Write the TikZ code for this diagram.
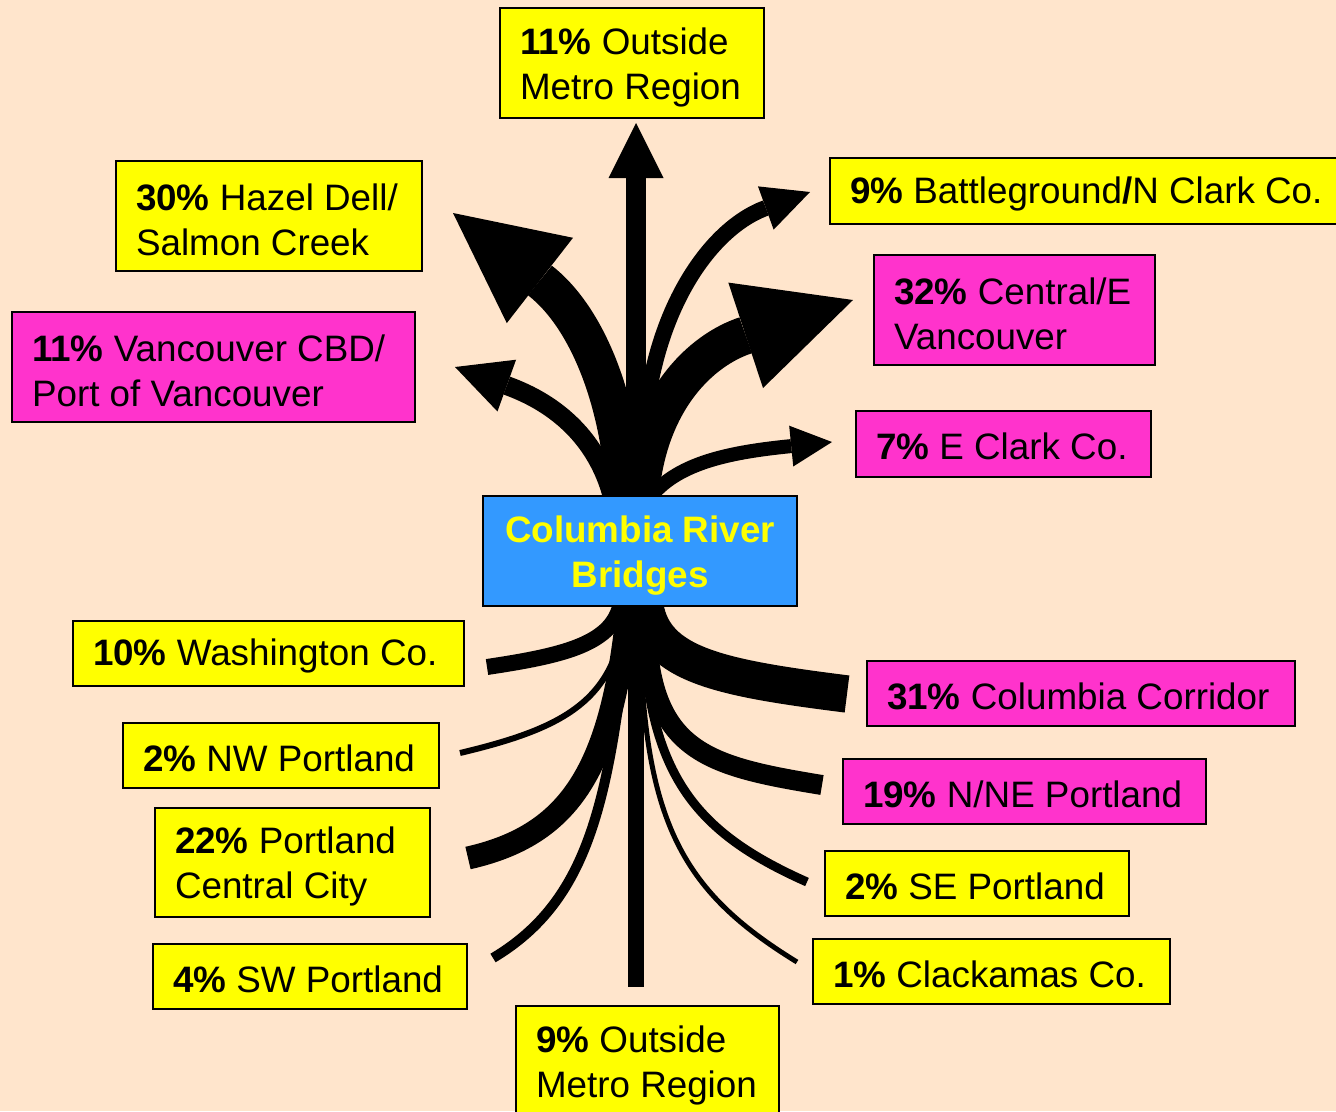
\documentclass[tikz,border=0pt]{standalone}
\usepackage{fontspec}
\setmainfont{Liberation Sans}
\usetikzlibrary{arrows.meta,calc}
\definecolor{bgpeach}{RGB}{255,229,204}
\definecolor{boxyellow}{RGB}{255,255,0}
\definecolor{boxmag}{RGB}{255,51,204}
\definecolor{boxblue}{RGB}{51,153,255}
\pgfdeclarelayer{back}
\pgfsetlayers{back,main}
\newcommand\ts{\rule{0pt}{26.5pt}}
\newcommand\tss{\rule{0pt}{24pt}}
\newcommand\boxline[2]{\makebox[#1][l]{#2}}
\tikzset{
  box/.style={draw=black, line width=1.2pt, inner xsep=15pt, inner ysep=0pt, align=left,
    font=\fontsize{27.6pt}{33.75pt}\selectfont},
  ybox/.style={box, fill=boxyellow},
  mbox/.style={box, fill=boxmag},
  flow/.style={draw=black, line cap=butt},
}
\begin{document}
\begin{tikzpicture}[x=0.75pt,y=-0.75pt]
\begin{pgfonlayer}{back}
\fill[bgpeach] (0,0) rectangle (1336,1111);
\end{pgfonlayer}
\useasboundingbox (0,0) rectangle (1336,1111);

% boxes
\node[ybox, minimum width=198pt, minimum height=82.5pt] (top) at (632,63)
  {\ts\boxline{168pt}{\textbf{11\%} Outside}\\Metro Region};
\node[ybox, minimum width=229.5pt, minimum height=82.5pt] (hazel) at (269,216)
  {\ts\boxline{199.5pt}{\textbf{30\%} Hazel Dell/}\\Salmon Creek};
\node[ybox, minimum width=387pt, minimum height=49.5pt] (battle) at (1088,191)
  {\tss\boxline{357pt}{\textbf{9\%} Battleground\textbf{/}N Clark Co.}};
\node[mbox, minimum width=210.75pt, minimum height=82.5pt] (central) at (1014.5,310)
  {\ts\boxline{180.75pt}{\textbf{32\%} Central/E}\\Vancouver};
\node[mbox, minimum width=302.25pt, minimum height=82.5pt] (vancbd) at (213.5,367)
  {\ts\boxline{272.25pt}{\textbf{11\%} Vancouver CBD/}\\Port of Vancouver};
\node[mbox, minimum width=221.25pt, minimum height=49.5pt] (eclark) at (1003.5,444)
  {\tss\boxline{191.25pt}{\textbf{7\%} E Clark Co.}};
\node[box, fill=boxblue, align=center, text=boxyellow, font=\fontsize{27.6pt}{33.75pt}\selectfont\bfseries,
      inner xsep=0pt, minimum width=235.5pt, minimum height=82.5pt] (bridge) at (640,551) {\ts Columbia River\\Bridges};
\node[ybox, minimum width=293.25pt, minimum height=48.75pt] (wash) at (268.5,653.5)
  {\tss\boxline{263.25pt}{\textbf{10\%} Washington Co.}};
\node[mbox, minimum width=321pt, minimum height=48.75pt] (colcorr) at (1081,693.5)
  {\tss\boxline{291pt}{\textbf{31\%} Columbia Corridor}};
\node[ybox, minimum width=237pt, minimum height=48.75pt] (nwport) at (281,755.5)
  {\tss\boxline{207pt}{\textbf{2\%} NW Portland}};
\node[mbox, minimum width=272.25pt, minimum height=48.75pt] (nne) at (1024.5,791.5)
  {\tss\boxline{242.25pt}{\textbf{19\%} N/NE Portland}};
\node[ybox, minimum width=206.25pt, minimum height=81.75pt] (pcc) at (292.5,862.5)
  {\ts\boxline{176.25pt}{\textbf{22\%} Portland}\\Central City};
\node[ybox, minimum width=228pt, minimum height=48.75pt] (seport) at (977,883.5)
  {\tss\boxline{198pt}{\textbf{2\%} SE Portland}};
\node[ybox, minimum width=235.5pt, minimum height=48.75pt] (swport) at (310,976.5)
  {\tss\boxline{205.5pt}{\textbf{4\%} SW Portland}};
\node[ybox, minimum width=267.75pt, minimum height=48.75pt] (clack) at (991.5,971.5)
  {\tss\boxline{237.75pt}{\textbf{1\%} Clackamas Co.}};
\node[ybox, minimum width=197.25pt, minimum height=83.25pt] (bottom) at (647.5,1061.5)
  {\ts\boxline{167.25pt}{\textbf{9\%} Outside}\\Metro Region};

% arrow tips and line ends
\coordinate (tTop) at (636,123);
\coordinate (tHazel) at (453,213);
\coordinate (tVan) at (455,367);
\coordinate (tBattle) at (810,192);
\coordinate (tCentral) at (853,300);
\coordinate (tEClark) at (832,442);
\coordinate (eWash) at (487,667);
\coordinate (eCol) at (847,694);
\coordinate (eNW) at (460,753);
\coordinate (eNNE) at (822,785);
\coordinate (ePCC) at (468,858);
\coordinate (eSE) at (807,882);
\coordinate (eSW) at (493,958);
\coordinate (eClack) at (797,962);
\coordinate (eBottom) at (636,987);

\begin{pgfonlayer}{back}
% upward flows
\draw[flow, line width=14.25pt, -{Triangle[length=41.25pt,width=41.25pt,line width=0pt]}]
  ($(bridge.north)+(-28,0)$) .. controls (597,440) and (558,404) .. (tVan);
\draw[flow, line width=28.5pt, -{Triangle[length=82.5pt,width=81pt,line width=0pt]}]
  ($(bridge.north)+(-15,0)$) .. controls (620,400) and (587,317) .. (tHazel);
\draw[flow, line width=15pt, -{Triangle[length=41.25pt,width=41.25pt,line width=0pt]}]
  ($(bridge.north)+(-4,0)$) -- (tTop);
\draw[flow, line width=12pt, -{Triangle[length=35.25pt,width=34.5pt,line width=0pt]}]
  ($(bridge.north)+(3,0)$) .. controls (635,330) and (705,230) .. (tBattle);
\draw[flow, line width=28.5pt, -{Triangle[length=84.75pt,width=83.25pt,line width=0pt]}]
  ($(bridge.north)+(0,0)$) .. controls (648,400) and (701,350) .. (tCentral);
\draw[flow, line width=10.5pt, -{Triangle[length=30.75pt,width=30.75pt,line width=0pt]}]
  ($(bridge.north)+(12,0)$) .. controls (680,462) and (732,452) .. (tEClark);
% downward flows
\draw[flow, line width=12pt] ($(bridge.south)+(-20,0)$) .. controls (610,645) and (560,656) .. (eWash);
\draw[flow, line width=28pt] ($(bridge.south)+(5,0)$) .. controls (655,665) and (720,678) .. (eCol);
\draw[flow, line width=4.5pt] ($(bridge.south)+(-15,0)$) .. controls (618,700) and (565,728) .. (eNW);
\draw[flow, line width=15pt] ($(bridge.south)+(6,0)$) .. controls (645,750) and (700,765) .. (eNNE);
\draw[flow, line width=17.25pt] ($(bridge.south)+(-12,0)$) .. controls (612,770) and (570,835) .. (ePCC);
\draw[flow, line width=6.75pt] ($(bridge.south)+(2,0)$) .. controls (645,770) and (690,830) .. (eSE);
\draw[flow, line width=7.5pt] ($(bridge.south)+(-10,0)$) .. controls (610,800) and (590,900) .. (eSW);
\draw[flow, line width=3.75pt] ($(bridge.south)+(0,0)$) .. controls (640,820) and (680,890) .. (eClack);
\draw[flow, line width=12.5pt] ($(bridge.south)+(-4,0)$) -- (eBottom);
\end{pgfonlayer}
\end{tikzpicture}
\end{document}
